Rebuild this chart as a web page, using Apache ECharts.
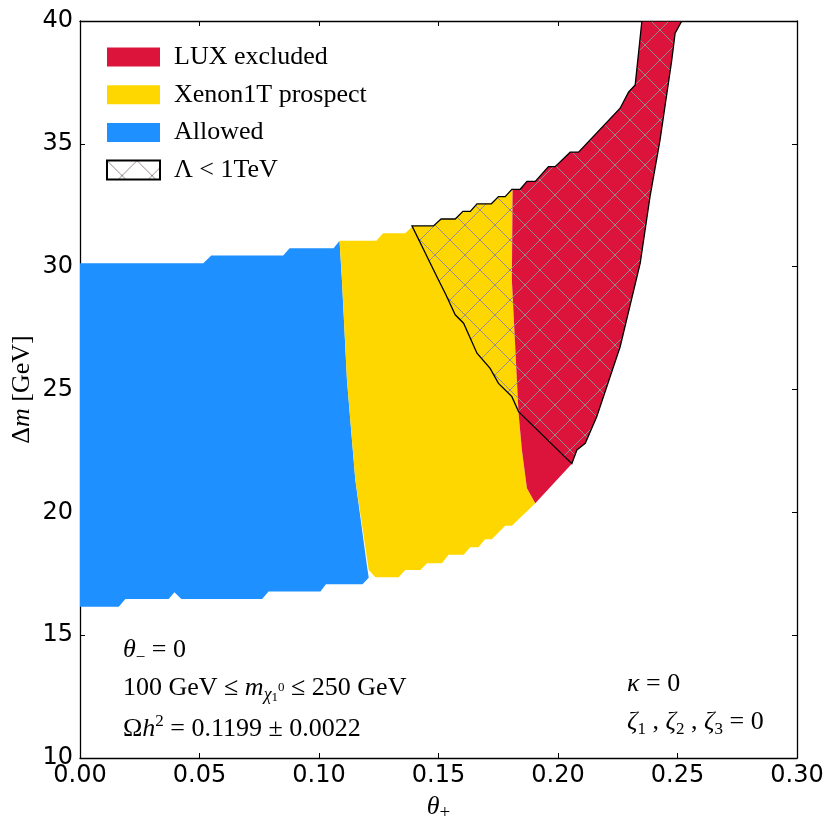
<!DOCTYPE html>
<html><head><meta charset="utf-8">
<script src="https://cdn.jsdelivr.net/npm/echarts@6/dist/echarts.min.js"></script>
<style>html,body{margin:0;padding:0;background:#fff}#c{width:831px;height:830px}</style>
</head><body><div id="c"></div>
<script>
// ---- data (theta_+ , Delta m [GeV]) ----
const xRange = [0, 0.30];
const xInterval = 0.05;
const yRange = [10, 40];
const yInterval = 5;
const seriesNames = ['LUX excluded', 'Xenon1T prospect', 'Allowed', 'Λ < 1TeV'];

const allowedRegion = [
  [0,30.14],[0.0516,30.14],[0.0549,30.45],[0.085,30.45],[0.0877,30.75],[0.1061,30.75],[0.1086,31.06],
  [0.1096,29.46],[0.1117,25.39],[0.1152,21.32],[0.1201,17.8],[0.1208,17.34],
  [0.1182,17.07],[0.1029,17.07],[0.1006,16.78],[0.0789,16.78],[0.0762,16.47],[0.0424,16.47],
  [0.0395,16.75],[0.0371,16.47],[0.019,16.47],[0.0162,16.16],[0,16.16]
];
const xenonRegion = [
  [0.1086,31.06],[0.124,31.06],[0.1268,31.36],[0.1361,31.36],[0.1393,31.66],[0.1479,31.66],[0.1511,31.94],
  [0.157,31.94],[0.1602,32.25],[0.1633,32.25],[0.1661,32.56],[0.1721,32.56],[0.1751,32.85],[0.1779,32.85],
  [0.1807,33.15],[0.181,33.15],
  [0.1807,29.46],[0.1835,24.03],[0.1849,22.54],[0.187,20.98],[0.1905,20.37],
  [0.1807,19.45],[0.1779,19.45],[0.1723,18.90],[0.1695,18.90],[0.1667,18.58],[0.1633,18.58],[0.1605,18.27],
  [0.1542,18.27],[0.1514,17.93],[0.1452,17.93],[0.1424,17.65],[0.1361,17.65],[0.1333,17.36],[0.1236,17.36],
  [0.1208,17.65],[0.1152,21.32],[0.1117,25.39],[0.1096,29.46]
];
const luxRegion = [
  [0.181,33.15],[0.1842,33.15],[0.187,33.47],[0.1905,33.47],[0.196,34.07],[0.1988,34.07],[0.2051,34.66],
  [0.2086,34.66],[0.226,36.45],[0.2295,37.1],[0.2323,37.4],[0.2351,40],
  [0.2518,40],[0.249,39.5],[0.2476,38.41],[0.2427,35.16],[0.2385,32.85],[0.2344,30.14],[0.226,26.74],
  [0.2162,23.89],[0.2114,22.81],[0.2079,22.54],[0.2058,21.98],
  [0.1905,20.37],[0.187,20.98],[0.1849,22.54],[0.1835,24.03],[0.1807,29.46]
];
const lambdaRegion = [
  [0.1389,31.66],[0.1479,31.66],[0.1511,31.94],[0.157,31.94],[0.1602,32.25],[0.1633,32.25],[0.1661,32.56],
  [0.1721,32.56],[0.1751,32.85],[0.1779,32.85],[0.1807,33.15],
  [0.1842,33.15],[0.187,33.47],[0.1905,33.47],[0.196,34.07],[0.1988,34.07],[0.2051,34.66],[0.2086,34.66],
  [0.226,36.45],[0.2295,37.1],[0.2323,37.4],[0.2351,40],
  [0.2518,40],[0.249,39.5],[0.2476,38.41],[0.2427,35.16],[0.2385,32.85],[0.2344,30.14],[0.226,26.74],
  [0.2162,23.89],[0.2114,22.81],[0.2079,22.54],[0.2058,21.98],
  [0.1835,24.10],[0.1807,24.71],[0.1751,25.25],[0.1716,25.86],[0.1661,26.48],[0.1605,27.70],[0.157,28.04],
  [0.1528,28.92],[0.150,29.46]
];

// ---- styling ----
const RED = '#DC143C', GOLD = '#FFD700', BLUE = '#1E90FF';
const serif = 'Liberation Serif';
const sans = 'DejaVu Sans';

function makeHatch() {
  const c = document.createElement('canvas');
  c.width = 30; c.height = 30;
  const g = c.getContext('2d');
  g.strokeStyle = 'rgb(150,140,140)';
  g.lineWidth = 1;
  g.beginPath();
  g.moveTo(-3,-3); g.lineTo(33,33);
  g.moveTo(33,-3); g.lineTo(-3,33);
  g.stroke();
  return c;
}
const hatch = { image: makeHatch(), repeat: 'repeat' };

function polySeries(name, pts, fill, stroke, lw) {
  return {
    type: 'custom',
    name: name,
    coordinateSystem: 'cartesian2d',
    clip: true,
    silent: true,
    itemStyle: { color: fill },
    data: [pts[0]],
    encode: { x: 0, y: 1 },
    renderItem: function (params, api) {
      const points = pts.map(p => api.coord(p));
      return {
        type: 'polygon',
        shape: { points: points },
        style: { fill: fill, stroke: stroke || null, lineWidth: lw || 0 }
      };
    }
  };
}

const T = 26;
const rich = {
  n: { fontFamily: serif, fontSize: T, lineHeight: 32, color: '#000' },
  i: { fontFamily: serif, fontStyle: 'italic', fontSize: T, lineHeight: 32, color: '#000' },
  sub: { fontFamily: serif, fontSize: 17, lineHeight: 14, verticalAlign: 'bottom', color: '#000' },
  subi: { fontFamily: serif, fontStyle: 'italic', fontSize: 18, lineHeight: 14, verticalAlign: 'bottom', color: '#000' },
  ss: { fontFamily: serif, fontSize: 13, lineHeight: 6, verticalAlign: 'bottom', color: '#000' },
  sp: { fontFamily: serif, fontSize: 13, lineHeight: 12, verticalAlign: 'middle', color: '#000' },
  sup: { fontFamily: serif, fontSize: 17, lineHeight: 14, verticalAlign: 'top', color: '#000' }
};
const richAx = {
  n: { fontFamily: serif, fontSize: 26, lineHeight: 32, color: '#000' },
  i: { fontFamily: serif, fontStyle: 'italic', fontSize: 26, lineHeight: 32, color: '#000' },
  sub: { fontFamily: serif, fontSize: 19, lineHeight: 6, verticalAlign: 'bottom', color: '#000' }
};
function txt(x, y, text) {
  return { type: 'text', x: x, y: y, z: 100,
    style: { text: text, rich: rich, align: 'left', verticalAlign: 'middle' } };
}

const axisLineStyle = { color: '#000', width: 1.3 };
const chart = echarts.init(document.getElementById('c'), null, { renderer: 'canvas' });
chart.setOption({
  animation: false,
  backgroundColor: '#fff',
  grid: { left: 80, right: 34, top: 21, bottom: 72, containLabel: false, outerBoundsMode: 'none' },
  xAxis: [{
    type: 'value', min: xRange[0], max: xRange[1], interval: xInterval, position: 'bottom',
    axisLine: { show: true, onZero: false, lineStyle: axisLineStyle },
    axisTick: { show: true, inside: true, length: 5, lineStyle: { color: '#000' } },
    axisLabel: { formatter: v => v.toFixed(2), fontFamily: sans, fontSize: 24, color: '#000', margin: 6 },
    splitLine: { show: false },
    name: '{i|θ}{sub|+}', nameLocation: 'middle', nameGap: 33, nameMoveOverlap: false,
    nameTextStyle: { rich: richAx }
  }, {
    type: 'value', min: xRange[0], max: xRange[1], interval: xInterval, position: 'top',
    axisLine: { show: true, onZero: false, lineStyle: axisLineStyle },
    axisTick: { show: true, inside: true, length: 5, lineStyle: { color: '#000' } },
    axisLabel: { show: false }, splitLine: { show: false }
  }],
  yAxis: [{
    type: 'value', min: yRange[0], max: yRange[1], interval: yInterval, position: 'left',
    axisLine: { show: true, onZero: false, lineStyle: axisLineStyle },
    axisTick: { show: true, inside: true, length: 5, lineStyle: { color: '#000' } },
    axisLabel: { fontFamily: sans, fontSize: 24, color: '#000', margin: 7 },
    splitLine: { show: false },
    name: '{n|Δ}{i|m}{n| [GeV]}', nameLocation: 'middle', nameGap: 42, nameRotate: 90, nameMoveOverlap: false,
    nameTextStyle: { rich: richAx }
  }, {
    type: 'value', min: yRange[0], max: yRange[1], interval: yInterval, position: 'right',
    axisLine: { show: true, onZero: false, lineStyle: axisLineStyle },
    axisTick: { show: true, inside: true, length: 5, lineStyle: { color: '#000' } },
    axisLabel: { show: false }, splitLine: { show: false }
  }],
  legend: {
    orient: 'vertical', left: 101, top: 39,
    itemWidth: 53, itemHeight: 19, itemGap: 11.7,
    icon: 'rect',
    selectedMode: false,
    textStyle: { fontFamily: serif, fontSize: 26, color: '#000', lineHeight: 19, padding: [0, 0, 0, 9] },
    data: [
      { name: seriesNames[0], itemStyle: { color: RED } },
      { name: seriesNames[1], itemStyle: { color: GOLD } },
      { name: seriesNames[2], itemStyle: { color: BLUE } },
      { name: seriesNames[3], itemStyle: { color: hatch, borderColor: '#000', borderWidth: 2 } }
    ]
  },
  series: [
    polySeries(seriesNames[2], allowedRegion, BLUE),
    polySeries(seriesNames[1], xenonRegion, GOLD),
    polySeries(seriesNames[0], luxRegion, RED),
    polySeries(seriesNames[3], lambdaRegion, hatch, '#000', 1.3)
  ],
  graphic: [
    txt(123, 650, '{i|θ}{sub|−}{n| = 0}'),
    txt(123, 688, '{n|100 GeV ≤ }{i|m}{subi|χ}{ss|1}{sp|0}{n| ≤ 250 GeV}'),
    txt(123, 729, '{n|Ω}{i|h}{sup|2}{n| = 0.1199 ± 0.0022}'),
    txt(627, 684, '{i|κ}{n| = 0}'),
    txt(627, 722, '{i|ζ}{sub|1}{n| , }{i|ζ}{sub|2}{n| , }{i|ζ}{sub|3}{n| = 0}')
  ]
});
</script>
</body></html>
